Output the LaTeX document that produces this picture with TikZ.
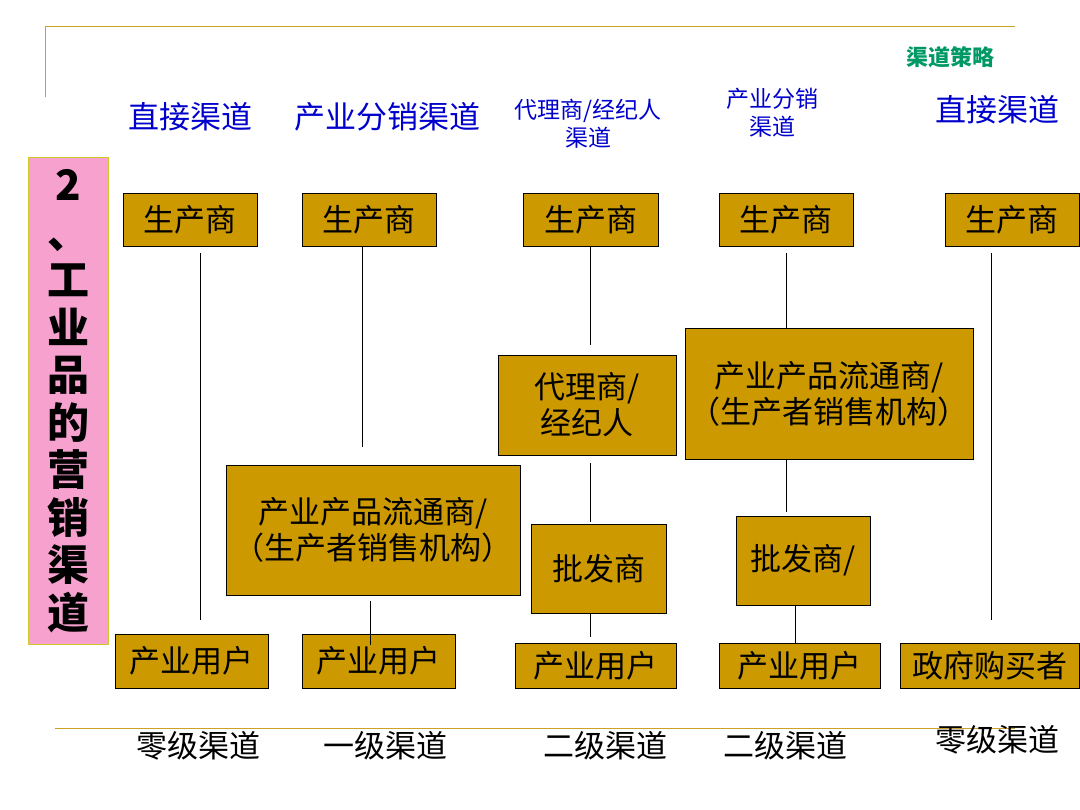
\documentclass[tikz,border=0pt]{standalone}
\usepackage{fontspec}
\setmainfont{Liberation Serif}
\newfontfamily\cjk{Noto Sans CJK SC}
\definecolor{gold}{HTML}{CC9900}
\definecolor{rule}{HTML}{C9A227}
\definecolor{hdr}{HTML}{0000CC}
\definecolor{pinkb}{HTML}{F7A1CF}
\definecolor{grn}{HTML}{009966}
\begin{document}
\begin{tikzpicture}[x=1pt,y=-1pt,
 gbox/.style={draw=black,fill=gold,font=\cjk\fontsize{31}{36}\selectfont,align=center,inner sep=0pt},
 hd/.style={text=hdr,font=\cjk\fontsize{31}{36}\selectfont,align=center},
 hds/.style={text=hdr,font=\cjk\fontsize{23}{28}\selectfont,align=center},
 ft/.style={font=\cjk\fontsize{31}{36}\selectfont}]
\useasboundingbox (0,0) rectangle (1080,810);
\draw[rule,line width=1pt] (45,97)--(45,27)--(1015,27);
\draw[rule,line width=1pt] (55,728)--(1015,728);
\node[text=grn,font=\cjk\bfseries\itshape\fontsize{22}{26}\selectfont] (t) at (950,57) {渠道策略};
\node[hd] (h1) at (190,117) {直接渠道};
\node[hd] (h2) at (387,117) {产业分销渠道};
\node[hds] (h3) at (588,124) {代理商/经纪人\\渠道};
\node[hds] (h4) at (772,113) {产业分销\\渠道};
\node[hd] (h5) at (997,110) {直接渠道};
\node[draw=yellow!80!black,fill=pinkb,minimum width=80pt,minimum height=487pt,inner sep=0pt] (side) at (68,401) {};
\node[font=\cjk\bfseries\fontsize{42}{47.5}\selectfont,align=center] at (side) {2\\、\\工\\业\\品\\的\\营\\销\\渠\\道};
\newcommand\bx[6]{\node[gbox,minimum width=#4-#2,minimum height=#5-#3] (#1) at ({(#2+#4)/2},{(#3+#5)/2}) {#6};}
\bx{p1}{123}{193}{257}{246}{生产商}
\bx{p2}{302}{193}{436}{246}{生产商}
\bx{p3}{523}{193}{658}{246}{生产商}
\bx{p4}{719}{193}{853}{246}{生产商}
\bx{p5}{945}{193}{1079}{246}{生产商}
\bx{ag}{498}{355}{676}{455}{代理商/\\经纪人}
\bx{dr}{685}{328}{973}{459}{产业产品流通商/\\（生产者销售机构）}
\bx{dl}{226}{465}{520}{595}{产业产品流通商/\\（生产者销售机构）}
\bx{w1}{531}{524}{666}{613}{批发商}
\bx{w2}{736}{516}{870}{605}{批发商/}
\bx{u1}{115}{634}{268}{688}{产业用户}
\bx{u2}{302}{634}{455}{688}{产业用户}
\bx{u3}{515}{643}{676}{688}{产业用户}
\bx{u4}{719}{643}{880}{688}{产业用户}
\bx{u5}{900}{643}{1079}{688}{政府购买者}
\draw (200,253)--(200,620);
\draw (362,246)--(362,447);
\draw (370,601)--(370,645);
\draw (590,246)--(590,345);
\draw (590,463)--(590,522);
\draw (590,613)--(590,637);
\draw (786,253)--(786,328);
\draw (786,459)--(786,512);
\draw (795,605)--(795,643);
\draw (991,253)--(991,620);
\node[ft] (b1) at (198,746) {零级渠道};
\node[ft] (b2) at (385,746) {一级渠道};
\node[ft] (b3) at (605,746) {二级渠道};
\node[ft] (b4) at (785,746) {二级渠道};
\node[ft] (b5) at (997,740) {零级渠道};
\end{tikzpicture}
\end{document}
